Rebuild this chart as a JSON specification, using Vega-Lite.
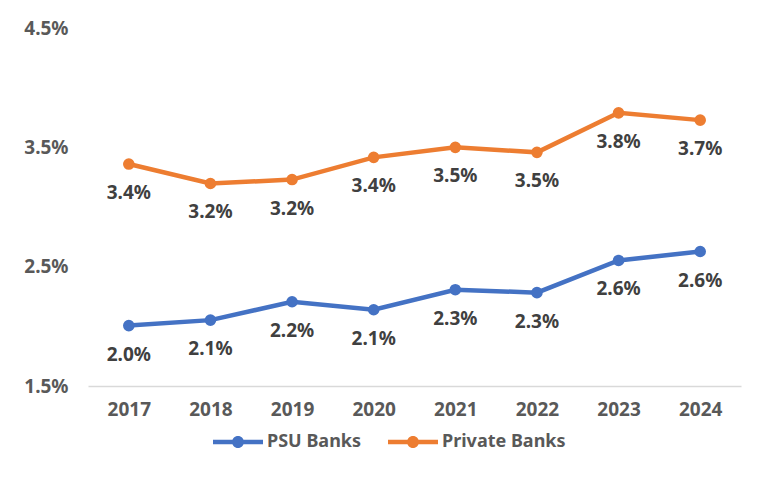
{
  "$schema": "https://vega.github.io/schema/vega-lite/v6.json",
  "width": 653,
  "height": 358,
  "autosize": {"type": "none"},
  "padding": {"left": 88, "top": 28, "right": 27, "bottom": 95},
  "background": "white",
  "config": {
    "view": {"stroke": null},
    "font": "Noto Sans"
  },
  "data": {
    "values": [
      {"year": "2017", "series": "PSU Banks", "value": 0.02006},
      {"year": "2018", "series": "PSU Banks", "value": 0.02052},
      {"year": "2019", "series": "PSU Banks", "value": 0.02206},
      {"year": "2020", "series": "PSU Banks", "value": 0.02139},
      {"year": "2021", "series": "PSU Banks", "value": 0.02307},
      {"year": "2022", "series": "PSU Banks", "value": 0.02282},
      {"year": "2023", "series": "PSU Banks", "value": 0.02552},
      {"year": "2024", "series": "PSU Banks", "value": 0.02627},
      {"year": "2017", "series": "Private Banks", "value": 0.03360},
      {"year": "2018", "series": "Private Banks", "value": 0.03197},
      {"year": "2019", "series": "Private Banks", "value": 0.03230},
      {"year": "2020", "series": "Private Banks", "value": 0.03416},
      {"year": "2021", "series": "Private Banks", "value": 0.03500},
      {"year": "2022", "series": "Private Banks", "value": 0.03458},
      {"year": "2023", "series": "Private Banks", "value": 0.03789},
      {"year": "2024", "series": "Private Banks", "value": 0.03728}
    ]
  },
  "encoding": {
    "x": {
      "field": "year",
      "type": "ordinal",
      "scale": {"type": "point", "padding": 0.5},
      "axis": {
        "title": null,
        "labelAngle": 0,
        "labelFont": "Noto Sans",
        "labelFontSize": 19,
        "labelFontWeight": "bold",
        "labelColor": "#595959",
        "labelPadding": 14,
        "ticks": false,
        "domainColor": "#d9d9d9",
        "domainWidth": 1.5
      }
    },
    "y": {
      "field": "value",
      "type": "quantitative",
      "scale": {"domain": [0.015, 0.045], "nice": false, "zero": false},
      "axis": {
        "title": null,
        "values": [0.015, 0.025, 0.035, 0.045],
        "format": ".1%",
        "grid": false,
        "domain": false,
        "ticks": false,
        "labelFont": "Noto Sans",
        "labelFontSize": 19,
        "labelFontWeight": "bold",
        "labelColor": "#595959",
        "labelPadding": 20
      }
    }
  },
  "layer": [
    {
      "mark": {"type": "line", "strokeWidth": 4.5, "point": {"filled": true, "size": 135}},
      "encoding": {
        "color": {
          "field": "series",
          "type": "nominal",
          "sort": ["PSU Banks", "Private Banks"],
          "scale": {"domain": ["PSU Banks", "Private Banks"], "range": ["#4472C4", "#ED7D31"]},
          "legend": {
            "title": null,
            "orient": "none",
            "direction": "horizontal",
            "legendX": 125,
            "legendY": 389,
            "symbolType": "M-1,-0.09H1V0.09H-1Z M-0.24,0 A0.24,0.24 0 1,1 0.24,0 A0.24,0.24 0 1,1 -0.24,0Z",
            "symbolSize": 2500,
            "symbolStrokeWidth": 0,
            "labelFont": "Noto Sans",
            "labelFontSize": 18,
            "labelFontWeight": "bold",
            "labelColor": "#595959",
            "labelOffset": 4,
            "columnPadding": 26,
            "encode": {
              "symbols": {"update": {"fill": {"scale": "color", "field": "value"}, "fillOpacity": {"value": 1}, "strokeWidth": {"value": 0}}}
            }
          }
        }
      }
    },
    {
      "mark": {"type": "text", "dy": 29, "fontSize": 19, "fontWeight": "bold", "font": "Noto Sans", "color": "#404040"},
      "encoding": {
        "text": {"field": "value", "type": "quantitative", "format": ".1%"},
        "detail": {"field": "series", "type": "nominal"}
      }
    }
  ]
}
